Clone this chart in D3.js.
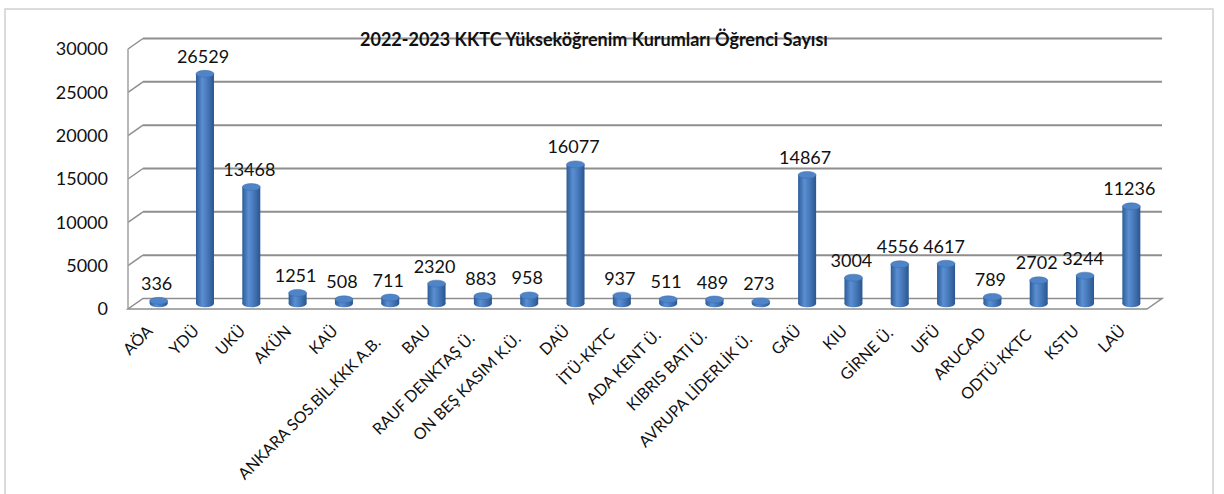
<!DOCTYPE html>
<html>
<head>
<meta charset="utf-8" />
<title>KKTC Öğrenci Sayısı</title>
<script src="https://d3js.org/d3.v7.min.js"></script>
<style>
body { margin: 0; background: #fff; }
text { font-family: Lato, "Open Sans", sans-serif; fill: #111; }
</style>
</head>
<body>
<div id="chart"></div>
<script>
var categories = ["AÖA", "YDÜ", "UKÜ", "AKÜN", "KAÜ", "ANKARA SOS.BİL.KKK A.B.", "BAU",
    "RAUF DENKTAŞ Ü.", "ON BEŞ KASIM K.Ü.", "DAÜ", "İTÜ-KKTC", "ADA KENT Ü.", "KIBRIS BATI Ü.",
    "AVRUPA LİDERLİK Ü.", "GAÜ", "KIU", "GİRNE Ü.", "UFÜ", "ARUCAD", "ODTÜ-KKTC", "KSTU", "LAÜ"];
var students = [336, 26529, 13468, 1251, 508, 711, 2320, 883, 958, 16077, 937, 511, 489,
    273, 14867, 3004, 4556, 4617, 789, 2702, 3244, 11236];
var yTicks = [0, 5000, 10000, 15000, 20000, 25000, 30000];
var title = "2022-2023 KKTC Yükseköğrenim Kurumları Öğrenci Sayısı";

var W = 1224, H = 494;
var depthX = 15, depthY = -10.5;

var x = d3.scaleBand()
    .domain(categories)
    .range([128, 1147])
    .paddingInner(0)
    .paddingOuter(0);

var y = d3.scaleLinear()
    .domain([0, 30000])
    .range([309, 49]);

var svg = d3.select("#chart").append("svg")
    .attr("width", W)
    .attr("height", H);

// outer frame
svg.append("path")
    .attr("d", "M5,500 L5,9 L1213,9 L1213,500")
    .style("fill", "none")
    .style("stroke", "#d0d0d0")
    .style("stroke-width", 1.5);

var defs = svg.append("defs");
var grad = defs.append("linearGradient").attr("id", "cyl")
    .attr("x1", "0").attr("x2", "1").attr("y1", "0").attr("y2", "0");
grad.append("stop").attr("offset", "0%").attr("stop-color", "#2c5c98");
grad.append("stop").attr("offset", "35%").attr("stop-color", "#5b8fd2");
grad.append("stop").attr("offset", "55%").attr("stop-color", "#4d80c2");
grad.append("stop").attr("offset", "100%").attr("stop-color", "#2a5690");

var grid = svg.append("g");
var x0 = x.range()[0], x1 = x.range()[1];

// back wall gridlines + left wall diagonals
yTicks.forEach(function(t) {
    if (t === 0) return;
    grid.append("line")
        .attr("x1", x0 + depthX).attr("x2", x1 + depthX)
        .attr("y1", y(t) + depthY).attr("y2", y(t) + depthY)
        .style("stroke", "#8e8e8e").style("stroke-width", 2);
    grid.append("line")
        .attr("x1", x0).attr("x2", x0 + depthX)
        .attr("y1", y(t)).attr("y2", y(t) + depthY)
        .style("stroke", "#8e8e8e").style("stroke-width", 1.5);
});

// left wall front edge
grid.append("line")
    .attr("x1", x0).attr("x2", x0)
    .attr("y1", y(30000)).attr("y2", y(0))
    .style("stroke", "#a0a0a0").style("stroke-width", 1.5);

// floor
grid.append("path")
    .attr("d", "M" + x0 + "," + y(0) + " L" + x1 + "," + y(0) +
        " L" + (x1 + depthX) + "," + (y(0) + depthY) +
        " L" + (x0 + depthX) + "," + (y(0) + depthY) + " Z")
    .style("fill", "#fff")
    .style("stroke", "#8e8e8e")
    .style("stroke-width", 1.5);

// y labels
svg.append("g").selectAll(".ylab")
    .data(yTicks)
    .enter().append("text")
    .attr("class", "ylab")
    .attr("x", 108)
    .attr("y", function(d) { return y(d); })
    .attr("dy", "0.35em")
    .attr("text-anchor", "end")
    .attr("font-size", 18)
    .text(function(d) { return d; });

// cylinders
var rx = 9, ry = 3.5;
var cx = function(d, i) { return x(categories[i]) + x.bandwidth() / 2 + depthX / 2; };
var base = y(0) + depthY / 2;
var topY = function(d) { return y(d) + depthY / 2; };

var bars = svg.append("g").selectAll(".bar")
    .data(students)
    .enter().append("g")
    .attr("class", "bar");

bars.append("ellipse")
    .attr("cx", cx)
    .attr("cy", base)
    .attr("rx", rx).attr("ry", ry)
    .style("fill", "url(#cyl)");

bars.append("rect")
    .attr("x", function(d, i) { return cx(d, i) - rx; })
    .attr("y", topY)
    .attr("width", rx * 2)
    .attr("height", function(d) { return base - topY(d); })
    .style("fill", "url(#cyl)");

bars.append("ellipse")
    .attr("cx", cx)
    .attr("cy", topY)
    .attr("rx", rx).attr("ry", ry)
    .style("fill", "#4f84c8")
    .style("stroke", "#3a6aa8")
    .style("stroke-width", 0.5);

// value labels
svg.append("g").selectAll(".val")
    .data(students)
    .enter().append("text")
    .attr("class", "val")
    .attr("x", function(d, i) { return cx(d, i) - 2; })
    .attr("y", function(d) { return topY(d) - 11; })
    .attr("text-anchor", "middle")
    .attr("font-size", 18)
    .text(function(d) { return d; });

// category labels (long labels sit a bit lower, like Excel does)
svg.append("g").selectAll(".xlab")
    .data(categories)
    .enter().append("text")
    .attr("class", "xlab")
    .attr("text-anchor", "end")
    .attr("font-size", 16)
    .text(function(d) { return d; })
    .attr("transform", function(d, i) {
        var len = this.getComputedTextLength();
        var shift = Math.min(12, Math.max(0, (len - 40) * 0.075));
        var px = cx(0, i) - 5 - shift * 0.3, py = 332 + shift;
        return "translate(" + px + "," + py + ") rotate(-45)";
    });

// title
svg.append("text")
    .attr("x", 594)
    .attr("y", 46)
    .attr("text-anchor", "middle")
    .attr("font-size", 18)
    .attr("font-weight", "bold")
    .text(title);
</script>
</body>
</html>
